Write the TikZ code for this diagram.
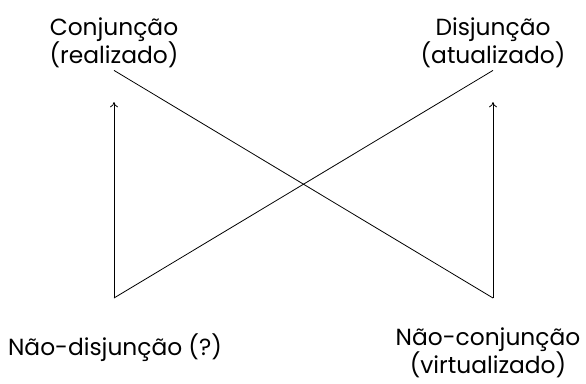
\documentclass[tikz,border=0pt]{standalone}
\usepackage{fontspec}
\setmainfont{Poppins}
\usetikzlibrary{arrows.meta}
\begin{document}
\begin{tikzpicture}[x=0.75pt,y=-0.75pt,line width=0.6pt,>={To[length=4pt,width=6pt]},
		lbl/.style={align=center,anchor=base,inner sep=2pt,font=\fontsize{17.5}{21}\selectfont}]
		
		\useasboundingbox (0,0) rectangle (586,383);
		
		\node[lbl] (conj) at (114,63) {Conjunção\\(realizado)};
		\node[lbl] (disj) at (493,63) {Disjunção\\(atualizado)};
		\node[lbl] (ndisj) at (115,355) {Não-disjunção (?)};
		\node[lbl,inner sep=0pt] (nconj) at (488,373) {Não-conjunção\\(virtualizado)};
		
		\coordinate (vl) at (114,298);
		\coordinate (vr) at (493,298);
		\coordinate (tl) at (114,102);
		\coordinate (tr) at (493,102);
		
		\draw[->] (vl) -- (tl);
		\draw[->] (vr) -- (tr);
		\draw (conj.south) -- (vr);
		\draw (disj.south) -- (vl);
		
	\end{tikzpicture}
\end{document}
